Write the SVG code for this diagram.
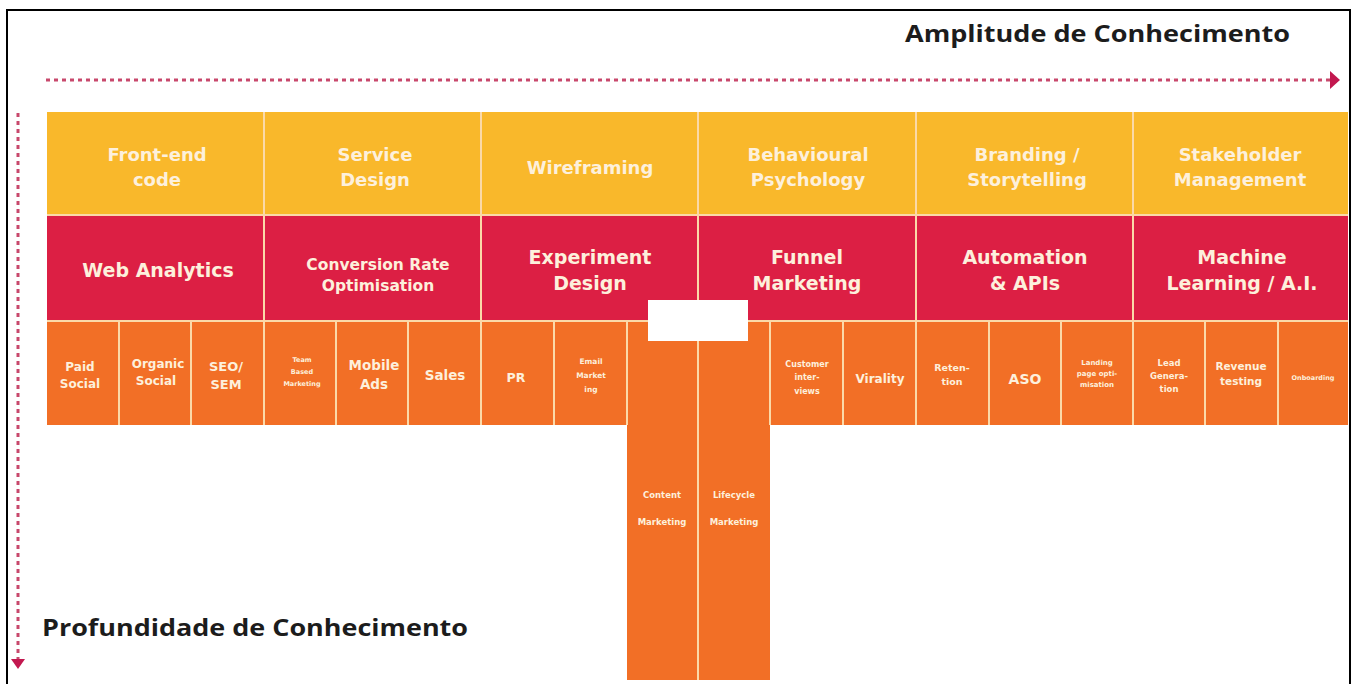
<svg xmlns="http://www.w3.org/2000/svg" width="1358" height="684" viewBox="0 0 1358 684">
<style>
.y{fill:#f9b82b}
.r{fill:#dc1f44}
.o{fill:#f26f26}
.sep{stroke:#fbd9a8;stroke-width:2}
.t{font-family:"DejaVu Sans","Liberation Sans",sans-serif;font-weight:bold;fill:#fdf0dc;text-anchor:middle}
.ax{font-family:"Open Sans","Liberation Sans",sans-serif;font-weight:bold;fill:#1c1c1c}
.dot{stroke:#c8486c;stroke-width:3;stroke-dasharray:4 4;fill:none}
</style>
<defs>
<clipPath id="c2"><rect x="120" y="321" width="70" height="104"/></clipPath>
</defs>
<rect x="0" y="0" width="1358" height="684" fill="#ffffff"/>
<rect x="7" y="10" width="1343" height="690" fill="none" stroke="#000" stroke-width="2"/>

<g id="axes">
<text class="ax" x="905" y="42" font-size="24" textLength="385" lengthAdjust="spacingAndGlyphs">Amplitude de Conhecimento</text>
<text class="ax" x="42" y="636" font-size="24" textLength="426" lengthAdjust="spacingAndGlyphs">Profundidade de Conhecimento</text>
</g>

<g id="connectors">
<line class="dot" x1="46" y1="80" x2="1330" y2="80"/>
<polygon points="1330,71 1340,80 1330,89" fill="#c2184f"/>
<line class="dot" x1="18" y1="113" x2="18" y2="660"/>
<polygon points="11,659 25,659 18,669" fill="#c2184f"/>
</g>

<g id="row-yellow">
<rect class="y" x="47" y="112" width="1301" height="103"/>
<line class="sep" x1="264" y1="112" x2="264" y2="215"/>
<line class="sep" x1="481" y1="112" x2="481" y2="215"/>
<line class="sep" x1="698" y1="112" x2="698" y2="215"/>
<line class="sep" x1="916" y1="112" x2="916" y2="215"/>
<line class="sep" x1="1133" y1="112" x2="1133" y2="215"/>
</g>
<g id="y1"><text class="t" font-size="18" x="157" y="161">Front-end</text><text class="t" font-size="18" x="157" y="186">code</text></g>
<g id="y2"><text class="t" font-size="18" x="375" y="161">Service</text><text class="t" font-size="18" x="375" y="186">Design</text></g>
<g id="y3"><text class="t" font-size="18" x="590" y="174">Wireframing</text></g>
<g id="y4"><text class="t" font-size="18" x="808" y="161">Behavioural</text><text class="t" font-size="18" x="808" y="186">Psychology</text></g>
<g id="y5"><text class="t" font-size="18" x="1027" y="161">Branding /</text><text class="t" font-size="18" x="1027" y="186">Storytelling</text></g>
<g id="y6"><text class="t" font-size="18" x="1240" y="161">Stakeholder</text><text class="t" font-size="18" x="1240" y="186">Management</text></g>

<g id="row-red">
<rect class="r" x="47" y="215" width="1301" height="105"/>
<line class="sep" x1="47" y1="215" x2="1348" y2="215"/>
<line class="sep" x1="264" y1="215" x2="264" y2="320"/>
<line class="sep" x1="481" y1="215" x2="481" y2="320"/>
<line class="sep" x1="698" y1="215" x2="698" y2="320"/>
<line class="sep" x1="916" y1="215" x2="916" y2="320"/>
<line class="sep" x1="1133" y1="215" x2="1133" y2="320"/>
</g>
<g id="r1"><text class="t" font-size="19" x="158" y="277">Web Analytics</text></g>
<g id="r2"><text class="t" font-size="15.5" x="378" y="270">Conversion Rate</text><text class="t" font-size="15.5" x="378" y="291">Optimisation</text></g>
<g id="r3"><text class="t" font-size="19" x="590" y="264">Experiment</text><text class="t" font-size="19" x="590" y="290">Design</text></g>
<g id="r4"><text class="t" font-size="19" x="807" y="264">Funnel</text><text class="t" font-size="19" x="807" y="290">Marketing</text></g>
<g id="r5"><text class="t" font-size="19" x="1025" y="264">Automation</text><text class="t" font-size="19" x="1025" y="290">&amp; APIs</text></g>
<g id="r6"><text class="t" font-size="19" x="1242" y="264">Machine</text><text class="t" font-size="19" x="1242" y="290">Learning / A.I.</text></g>

<g id="row-orange">
<rect class="o" x="47" y="320" width="1301" height="105"/>
<rect class="o" x="627" y="320" width="143" height="360"/>
<line class="sep" x1="47" y1="321" x2="1348" y2="321"/>
<line class="sep" x1="119" y1="321" x2="119" y2="425"/>
<line class="sep" x1="191" y1="321" x2="191" y2="425"/>
<line class="sep" x1="264" y1="321" x2="264" y2="425"/>
<line class="sep" x1="336" y1="321" x2="336" y2="425"/>
<line class="sep" x1="408" y1="321" x2="408" y2="425"/>
<line class="sep" x1="481" y1="321" x2="481" y2="425"/>
<line class="sep" x1="554" y1="321" x2="554" y2="425"/>
<line class="sep" x1="627" y1="321" x2="627" y2="425"/>
<line class="sep" x1="698" y1="321" x2="698" y2="680"/>
<line class="sep" x1="770" y1="321" x2="770" y2="425"/>
<line class="sep" x1="843" y1="321" x2="843" y2="425"/>
<line class="sep" x1="916" y1="321" x2="916" y2="425"/>
<line class="sep" x1="989" y1="321" x2="989" y2="425"/>
<line class="sep" x1="1061" y1="321" x2="1061" y2="425"/>
<line class="sep" x1="1133" y1="321" x2="1133" y2="425"/>
<line class="sep" x1="1205" y1="321" x2="1205" y2="425"/>
<line class="sep" x1="1278" y1="321" x2="1278" y2="425"/>
<rect x="648" y="300" width="100" height="41" fill="#ffffff"/>
</g>
<g id="o1"><text class="t" font-size="12" x="80" y="371">Paid</text><text class="t" font-size="12" x="80" y="388">Social</text></g>
<g id="o2" clip-path="url(#c2)"><text class="t" font-size="12" x="158" y="368">Organic</text><text class="t" font-size="12" x="156" y="385">Social</text></g>
<g id="o3"><text class="t" font-size="13" x="226" y="371">SEO/</text><text class="t" font-size="13" x="226" y="389">SEM</text></g>
<g id="o4"><text class="t" font-size="6.5" x="302" y="362">Team</text><text class="t" font-size="6.5" x="302" y="374">Based</text><text class="t" font-size="6.5" x="302" y="386">Marketing</text></g>
<g id="o5"><text class="t" font-size="13.5" x="374" y="370">Mobile</text><text class="t" font-size="13.5" x="374" y="389">Ads</text></g>
<g id="o6"><text class="t" font-size="13.5" x="445" y="380">Sales</text></g>
<g id="o7"><text class="t" font-size="12.5" x="516" y="382">PR</text></g>
<g id="o8"><text class="t" font-size="7.5" x="591" y="364">Email</text><text class="t" font-size="7.5" x="591" y="378">Market</text><text class="t" font-size="7.5" x="591" y="392">ing</text></g>
<g id="o9"><text class="t" font-size="8.5" x="662" y="498">Content</text><text class="t" font-size="8.5" x="662" y="525">Marketing</text></g>
<g id="o10"><text class="t" font-size="8.5" x="734" y="498">Lifecycle</text><text class="t" font-size="8.5" x="734" y="525">Marketing</text></g>
<g id="o11"><text class="t" font-size="8" x="807" y="367">Customer</text><text class="t" font-size="8" x="807" y="380">inter-</text><text class="t" font-size="8" x="807" y="394">views</text></g>
<g id="o12"><text class="t" font-size="12" x="880" y="383">Virality</text></g>
<g id="o13"><text class="t" font-size="9.5" x="952" y="371">Reten-</text><text class="t" font-size="9.5" x="952" y="385">tion</text></g>
<g id="o14"><text class="t" font-size="14" x="1025" y="384">ASO</text></g>
<g id="o15"><text class="t" font-size="7" x="1097" y="365">Landing</text><text class="t" font-size="7" x="1097" y="376">page opti-</text><text class="t" font-size="7" x="1097" y="387">misation</text></g>
<g id="o16"><text class="t" font-size="8.5" x="1169" y="366">Lead</text><text class="t" font-size="8.5" x="1169" y="379">Genera-</text><text class="t" font-size="8.5" x="1169" y="392">tion</text></g>
<g id="o17"><text class="t" font-size="10.5" x="1241" y="370">Revenue</text><text class="t" font-size="10.5" x="1241" y="385">testing</text></g>
<g id="o18"><text class="t" font-size="6.5" x="1313" y="380">Onboarding</text></g>
</svg>
